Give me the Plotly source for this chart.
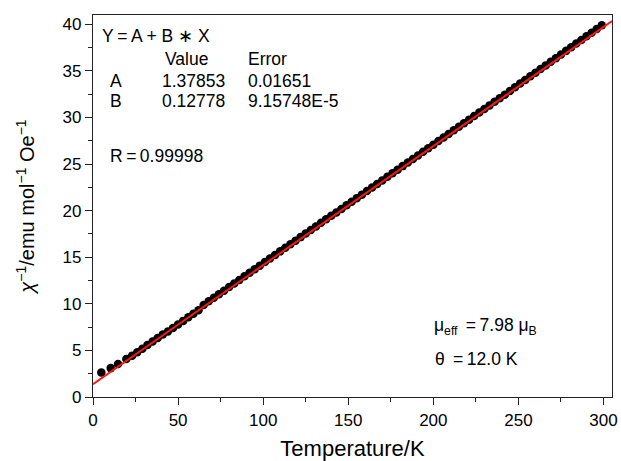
import plotly.graph_objects as go

# Data
temperature = [4.9, 10.4, 14.7, 19.6,
               23, 26, 29, 32, 35, 38, 41, 44, 47, 50, 53, 56, 59, 62, 65, 68,
               71, 74, 77, 80, 83, 86, 89, 92, 95, 98, 101, 104, 107, 110, 113,
               116, 119, 122, 125, 128, 131, 134, 137, 140, 143, 146, 149, 152,
               155, 158, 161, 164, 167, 170, 173, 176, 179, 182, 185, 188, 191,
               194, 197, 200, 203, 206, 209, 212, 215, 218, 221, 224, 227, 230,
               233, 236, 239, 242, 245, 248, 251, 254, 257, 260, 263, 266, 269,
               272, 275, 278, 281, 284, 287, 290, 293, 296, 299]
inv_chi = [2.64, 3.10, 3.54, 4.07,
           4.44, 4.81, 5.19, 5.58, 5.96, 6.34, 6.72, 7.03, 7.40, 7.79, 8.17, 8.55,
           8.93, 9.32, 9.88, 10.27, 10.65, 11.03, 11.41, 11.80, 12.18, 12.56,
           12.95, 13.33, 13.71, 14.10, 14.48, 14.86, 15.25, 15.63, 16.01, 16.39,
           16.78, 17.16, 17.54, 17.93, 18.31, 18.69, 19.07, 19.46, 19.80, 20.18,
           20.57, 20.95, 21.33, 21.72, 22.10, 22.48, 22.87, 23.25, 23.63, 24.02,
           24.40, 24.78, 25.17, 25.55, 25.93, 26.32, 26.70, 27.08, 27.47, 27.85,
           28.24, 28.62, 29.00, 29.39, 29.77, 30.15, 30.54, 30.92, 31.30, 31.69,
           32.07, 32.45, 32.84, 33.25, 33.64, 34.03, 34.42, 34.81, 35.20, 35.59,
           35.98, 36.37, 36.76, 37.15, 37.54, 37.93, 38.32, 38.71, 39.10, 39.50,
           39.90]

fit_A = 1.37853
fit_B = 0.12778
fit_T = [0, 305]
fit_y = [fit_A + fit_B * t for t in fit_T]

x_ticks = [0, 50, 100, 150, 200, 250, 300]
y_ticks = [0, 5, 10, 15, 20, 25, 30, 35, 40]

FONT = "Liberation Sans, Arial, Helvetica, sans-serif"
AX = "#222222"

fig = go.Figure()
fig.add_trace(go.Scatter(x=temperature, y=inv_chi, mode="markers",
                         marker=dict(color="black", size=8.5, line=dict(width=0)),
                         showlegend=False))
fig.add_trace(go.Scatter(x=fit_T, y=fit_y, mode="lines",
                         line=dict(color="#ff1414", width=2),
                         showlegend=False))

L, R, T, B = 93, 612, 15, 397
W, H = 621, 461


def px(xp):
    return (xp - L) / (R - L)


def py(yp):
    return (B - yp) / (B - T)


texts = [
    ("Y\u2009=\u2009A + B \u2217 X", 100, 36),
    ("Value", 163, 59),
    ("Error", 246, 59),
    ("A", 108, 81),
    ("1.37853", 160, 81),
    ("0.01651", 246, 81),
    ("B", 108, 101),
    ("0.12778", 160, 101),
    ("9.15748E-5", 246, 101),
    ("R\u2009=\u20090.99998", 108, 156),
    ("\u03bc<sub>eff</sub> \u2009=\u20097.98 \u03bc<sub>B</sub>", 432, 326),
    ("\u03b8 \u2009=\u200912.0 K", 433, 359),
]
annotations = []
for t, x0, y0 in texts:
    annotations.append(dict(text=t, x=px(x0), y=py(y0), xref="paper", yref="paper",
                            xanchor="left", yanchor="middle", showarrow=False,
                            font=dict(size=17.5, color="black", family=FONT)))

fig.update_layout(
    width=W, height=H,
    margin=dict(l=L, r=W - R, t=T, b=H - B, pad=0),
    paper_bgcolor="white", plot_bgcolor="white",
    font=dict(family=FONT, size=17, color="black"),
    annotations=annotations,
    xaxis=dict(range=[0, 305], tickvals=x_ticks, ticks="outside", ticklen=7,
               tickwidth=1.3, tickcolor=AX, showline=True, linecolor=AX,
               linewidth=1.3, mirror=True, showgrid=False, zeroline=False,
               tickfont=dict(size=17), automargin=False,
               minor=dict(dtick=25, tick0=0, ticks="outside", ticklen=4,
                          tickcolor=AX, tickwidth=1.2, showgrid=False),
               title=dict(text="Temperature/K", font=dict(size=22), standoff=14)),
    yaxis=dict(range=[0, 41], tickvals=y_ticks, ticks="outside", ticklen=7,
               tickwidth=1.3, tickcolor=AX, showline=True, linecolor=AX,
               linewidth=1.3, mirror=True, showgrid=False, zeroline=False,
               tickfont=dict(size=17), automargin=False,
               minor=dict(dtick=2.5, tick0=0, ticks="outside", ticklen=4,
                          tickcolor=AX, tickwidth=1.2, showgrid=False),
               title=dict(text="<i>\u03c7</i><sup>\u22121</sup>/emu mol<sup>\u22121</sup> Oe<sup>\u22121</sup>",
                          font=dict(size=20), standoff=22)),
)

fig.write_html("out.html")
